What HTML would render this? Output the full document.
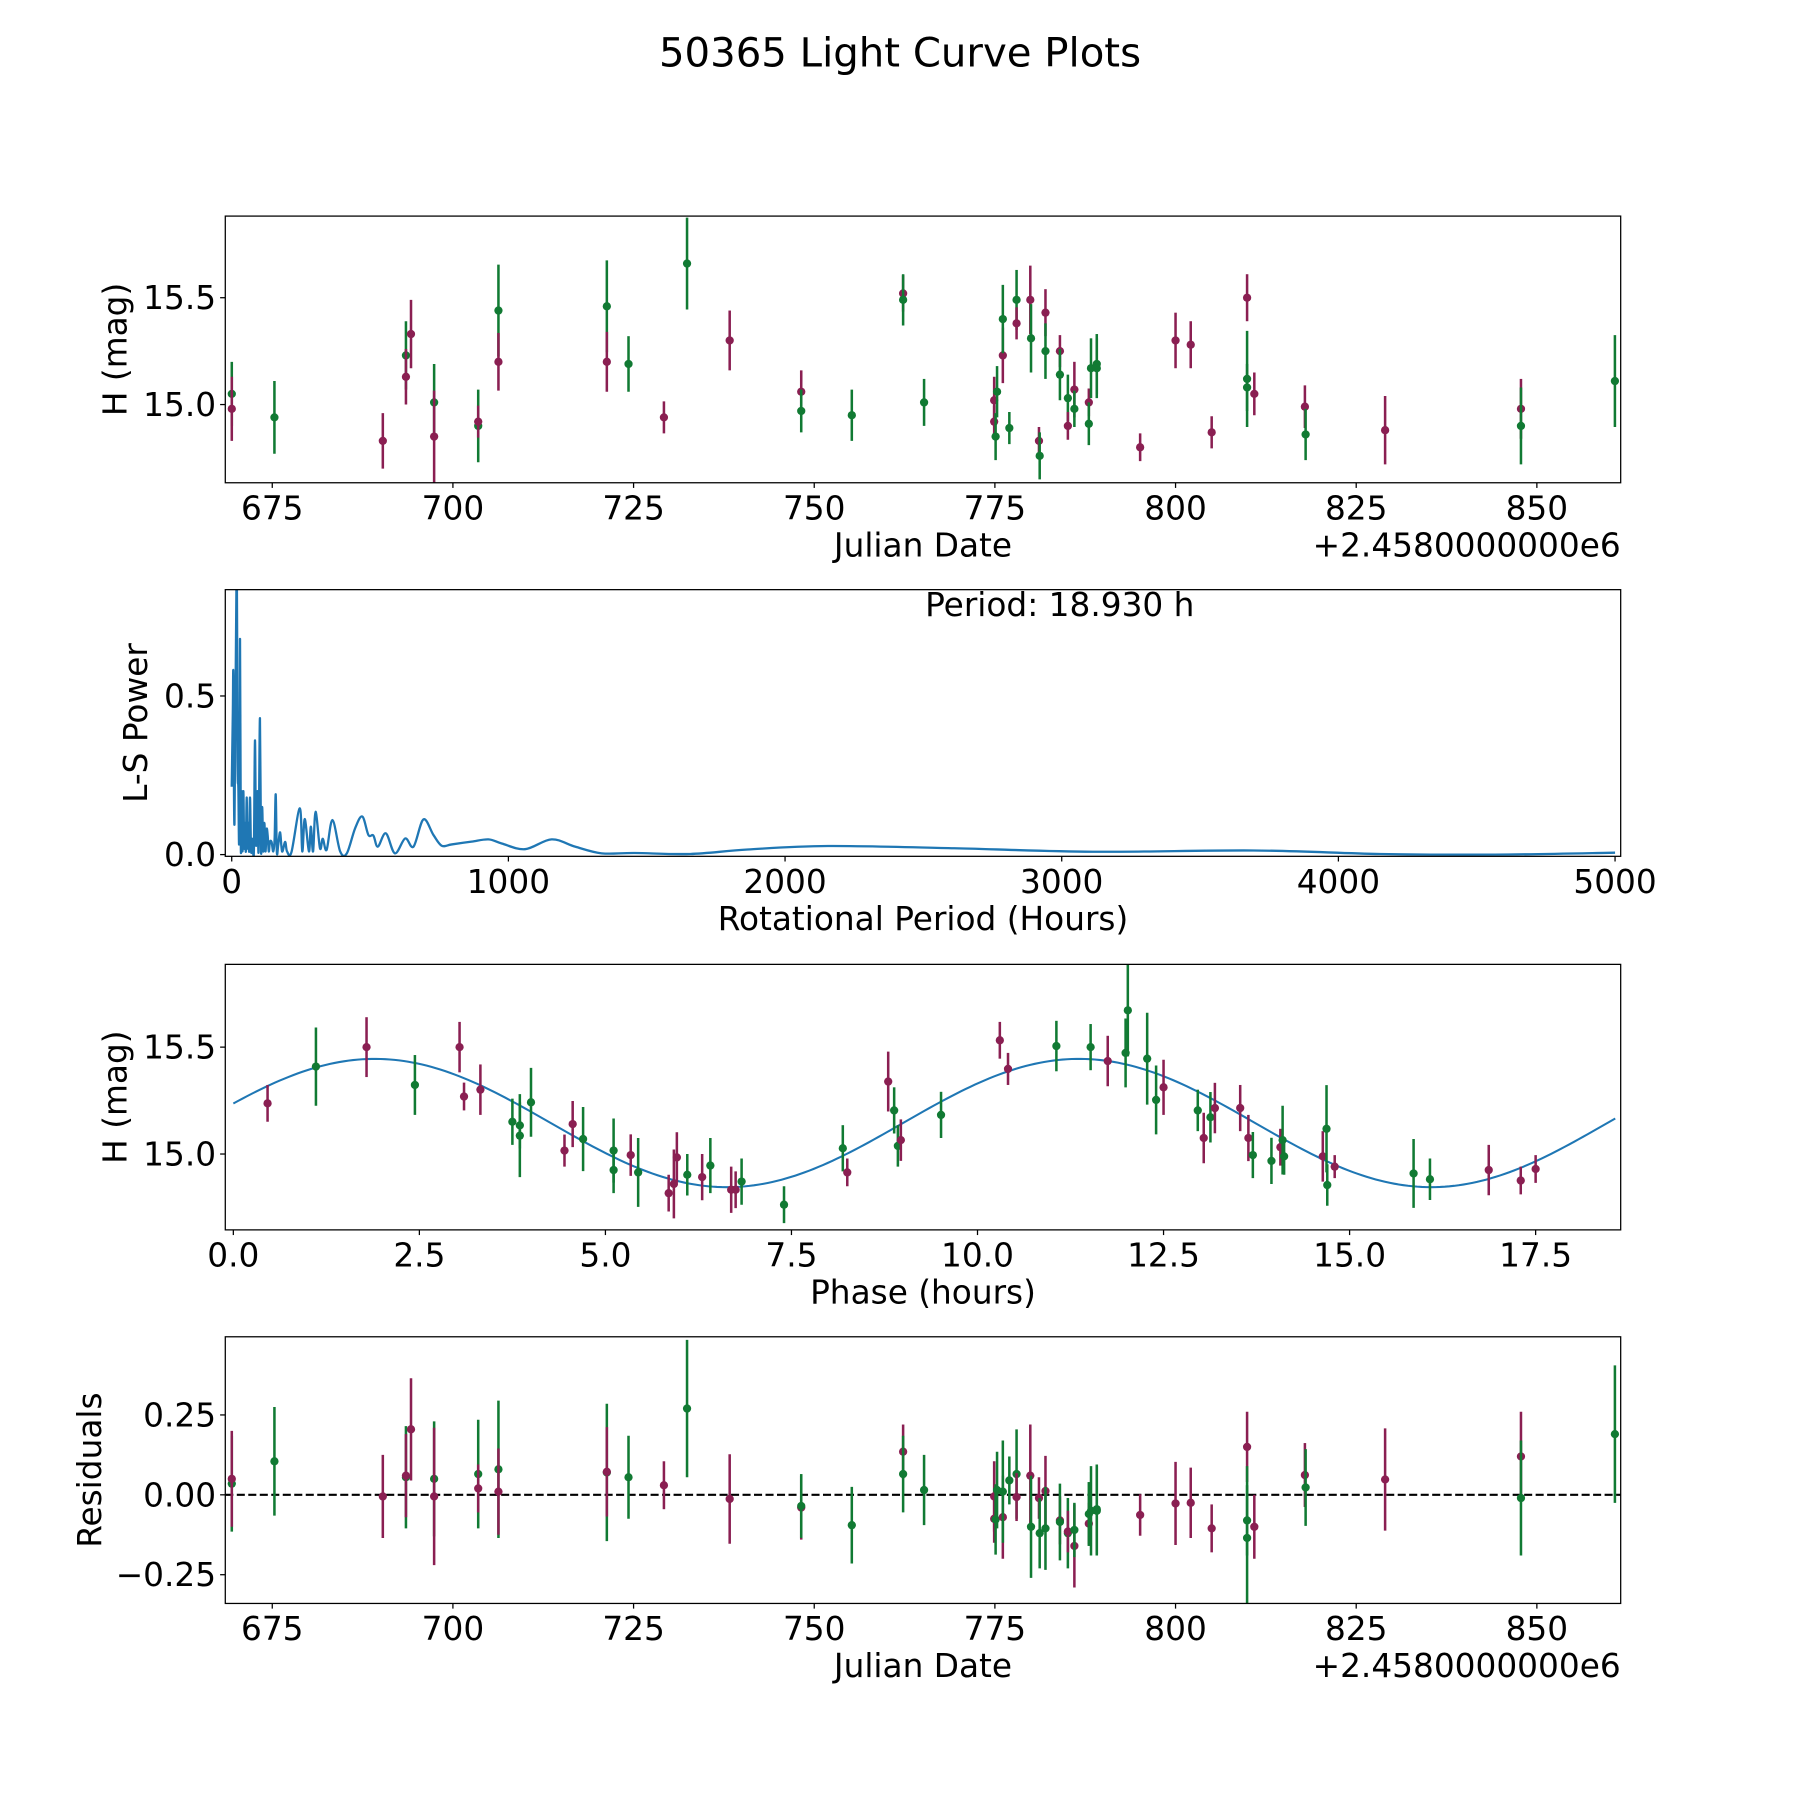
<!DOCTYPE html>
<html><head><meta charset="utf-8"><style>html,body{margin:0;padding:0;background:#fff}svg{display:block}text{font-family:"DejaVu Sans","Liberation Sans",sans-serif;fill:#000}</style></head>
<body>
<svg id="fig" width="1800" height="1800" viewBox="0 0 1566 1566" xmlns="http://www.w3.org/2000/svg">
<rect width="1566" height="1566" fill="#fff"/>
<text x="783" y="58" font-size="35" text-anchor="middle">50365 Light Curve Plots</text>
</svg>
<script>
// ---- Panel 1: light curve vs Julian date ----
const dates=[669.4,669.4,675.3,690.3,693.5,693.5,694.2,697.4,697.4,703.5,703.5,706.3,706.3,721.3,721.3,724.3,729.2,732.4,738.3,748.2,748.2,755.2,762.3,762.3,765.2,774.9,774.9,775.1,775.3,776.1,776.1,777.0,778.0,778.0,779.9,780.0,781.1,781.2,782.0,782.0,784.0,784.0,785.1,785.1,786.0,786.0,788.0,788.0,788.3,789.1,789.1,795.1,800.0,802.1,805.0,809.9,809.9,809.9,810.9,817.9,818.0,829.0,847.8,847.8,860.8];
const mags=[15.05,14.98,14.94,14.83,15.23,15.13,15.33,15.01,14.85,14.90,14.92,15.44,15.20,15.46,15.20,15.19,14.94,15.66,15.30,15.06,14.97,14.95,15.52,15.49,15.01,15.02,14.92,14.85,15.06,15.23,15.40,14.89,15.49,15.38,15.49,15.31,14.83,14.76,15.43,15.25,15.25,15.14,15.03,14.90,15.07,14.98,15.01,14.91,15.17,15.19,15.17,14.80,15.30,15.28,14.87,15.50,15.12,15.08,15.05,14.99,14.86,14.88,14.98,14.90,15.11];
const magErrs=[.15,.15,.17,.13,.16,.13,.16,.18,.215,.17,.075,.215,.135,.215,.14,.13,.075,.215,.14,.10,.10,.12,.085,.12,.11,.11,.075,.11,.12,.13,.16,.075,.14,.075,.16,.16,.065,.11,.11,.13,.075,.12,.11,.065,.13,.085,.065,.10,.14,.14,.14,.065,.13,.11,.075,.11,.225,.11,.10,.10,.12,.16,.14,.18,.215];
const bands="GMGMGMMGMGMGMGMGMGMMGGMGGMMGGMGGGMMGMGMGMGGMMGMGGGGMMMMMGGMMGMMGG".split("");
const residuals=[.035,.05,.105,-.005,.055,.06,.205,.05,-.005,.065,.02,.08,.01,.07,.072,.055,.03,.27,-.013,-.04,-.035,-.095,.135,.065,.015,-.005,-.075,-.077,.015,-.07,.01,.045,.065,-.007,.06,-.1,-.01,-.12,.012,-.105,-.08,-.085,-.12,-.115,-.16,-.11,-.09,-.06,-.05,-.045,-.05,-.063,-.027,-.025,-.105,.15,-.135,-.08,-.1,.062,.023,.048,.12,-.01,.19];
const jdTicks=[675,700,725,750,775,800,825,850];
const magTicks=[15.0,15.5];
const magTickLabels=["15.0","15.5"];
const resTicks=[0.25,0,-0.25];
const resTickLabels=["0.25","0.00","\u22120.25"];
// ---- Panel 2: periodogram ----
const lsPeriods=[0,4,6,10,18,21,24,27,30,33,36,39,42,45,48,51,54,57,60,63,66,70,75,80,84,88,93,97,102,106,110,114,118,122,126,130,134,138,144,150,155,159,163,168,175,182,193,200,216,246,255,264,279,286,294,303,319,329,343,364,392,416,446,472,494,512,528,557,590,627,657,693,729,759,795,867,928,976,1060,1156,1241,1337,1456,1657,1865,2155,2612,3111,3693,4150,4565,5000];
const lsPower=[0.214,0.45,0.566,0.1,0.95,0.3,0.21,0.05,0.68,0.02,0.2,0.01,0.2,0.02,0.1,0.01,0.18,0.02,0.1,0.01,0.18,0.01,0.05,0.01,0.36,0.03,0.2,0.01,0.43,0.01,0.15,0.01,0.10,0.01,0.08,0.06,0.01,0.04,0.04,0.01,0.05,0.19,0.01,0.03,0.07,0.01,0.04,0.01,0.008,0.146,0.01,0.112,0.01,0.088,0.01,0.135,0.02,0.05,0.015,0.109,0.01,0.004,0.083,0.120,0.062,0.06,0.025,0.067,0.004,0.051,0.025,0.111,0.062,0.028,0.032,0.041,0.048,0.035,0.017,0.048,0.025,0.004,0.005,0.002,0.016,0.027,0.02,0.009,0.013,0.002,0.0,0.006];
const lsXTicks=[0,1000,2000,3000,4000,5000];
const lsYTicks=[0.0,0.5];
const lsYTickLabels=["0.0","0.5"];
// ---- Panel 3: phased curve ----
const phases=[0.46,1.11,1.79,2.44,3.04,3.10,3.32,3.75,3.85,3.85,4.00,4.45,4.56,4.70,5.11,5.11,5.34,5.44,5.85,5.92,5.96,6.10,6.30,6.41,6.69,6.75,6.83,7.40,8.19,8.25,8.80,8.88,8.93,8.97,9.51,10.30,10.41,11.06,11.52,11.75,11.99,12.02,12.28,12.40,12.50,12.96,13.04,13.13,13.19,13.53,13.64,13.70,13.95,14.07,14.10,14.12,14.64,14.69,14.70,14.80,15.86,16.08,16.87,17.30,17.50];
const phaseMags=[15.237,15.409,15.500,15.323,15.500,15.269,15.301,15.151,15.134,15.086,15.242,15.016,15.140,15.070,15.016,14.925,14.995,14.914,14.817,14.860,14.984,14.903,14.892,14.946,14.833,14.833,14.871,14.763,15.027,14.914,15.339,15.204,15.038,15.065,15.183,15.532,15.398,15.505,15.500,15.435,15.473,15.672,15.446,15.253,15.312,15.204,15.075,15.172,15.215,15.215,15.075,14.995,14.968,15.032,15.065,14.989,14.989,15.118,14.855,14.941,14.909,14.882,14.925,14.876,14.930];
const phaseErrs=[.086,.183,.14,.14,.118,.065,.118,.108,.108,.194,.161,.075,.108,.15,.15,.108,.097,.161,.086,.161,.118,.097,.108,.129,.108,.086,.108,.086,.108,.065,.14,.108,.097,.097,.108,.086,.075,.118,.108,.118,.161,.215,.215,.161,.129,.097,.118,.118,.118,.108,.108,.108,.108,.086,.161,.086,.118,.204,.097,.054,.161,.097,.118,.065,.065];
const phaseBands="MGMGMMMGGGGMMGGGMGMMMGMGMMGGGMMGGMGMMGGMGGGGMGMGMMMGGMGGMGGMGGMMM".split("");
const phaseTicks=[0,2.5,5,7.5,10,12.5,15,17.5];
const phaseTickLabels=["0.0","2.5","5.0","7.5","10.0","12.5","15.0","17.5"];
const modelMean=15.145, modelAmp=0.30, modelHalfPeriod=9.465, modelPeak=1.9, modelEnd=18.57, periodHours=18.93;

const NS="http://www.w3.org/2000/svg";
const fig=document.getElementById('fig');
const COL={M:"#8a1f52",G:"#117a33"};
const FS=28.5;
function el(tag,attrs,parent){const e=document.createElementNS(NS,tag);for(const k in attrs)e.setAttribute(k,attrs[k]);(parent||fig).appendChild(e);return e;}
function txt(s,attrs,parent){const t=el('text',attrs,parent);t.textContent=s;return t;}
const L=196,R=1410;
function lin(d0,d1,p0,p1){return v=>p0+(v-d0)/(d1-d0)*(p1-p0);}

function frame(g,top,bot,name){
  const r=el('rect',{x:L,y:top,width:R-L,height:bot-top,fill:'none',stroke:'#000','stroke-width':1.1},g);
  
  
}
function xTicks(g,bot,vals,labels,sx,name){
  vals.forEach((v,i)=>{const x=sx(v);
    const t=el('line',{x1:x,x2:x,y1:bot,y2:bot+4.5,stroke:'#000','stroke-width':1.1},g);
    
    
    const lb=txt(labels[i],{x:x,y:bot+32,'font-size':FS,'text-anchor':'middle'},g);
    
    });
}
function yTicks(g,vals,labels,sy,name){
  vals.forEach((v,i)=>{const y=sy(v);
    const t=el('line',{x1:L-4.5,x2:L,y1:y,y2:y,stroke:'#000','stroke-width':1.1},g);
    
    
    const lb=txt(labels[i],{x:L-8,y:y+10,'font-size':FS,'text-anchor':'end'},g);
    
    });
}
function clip(id,top,bot){const c=el('clipPath',{id:id});el('rect',{x:L,y:top,width:R-L,height:bot-top},c);}
function points(g,xs,ys,es,bs,sx,sy,name){
  xs.forEach((xv,i)=>{const x=sx(xv),y=sy(ys[i]),e1=sy(ys[i]+es[i]),e2=sy(ys[i]-es[i]);
    const ln=el('line',{x1:x,x2:x,y1:e1,y2:e2,stroke:COL[bs[i]],'stroke-width':2.2},g);
    
    
    const c=el('circle',{cx:x,cy:y,r:3.6,fill:COL[bs[i]]},g);
    
    });
}
function yLabel(g,s,x,cy,name){const t=txt(s,{x:x,y:cy,'font-size':FS,'text-anchor':'middle',transform:`rotate(-90 ${x} ${cy})`},g);}
function xLabel(g,s,x,y,name,anchor){const t=txt(s,{x:x,y:y,'font-size':FS,'text-anchor':anchor||'middle'},g);}
function jdLabels(g,bot,name){xLabel(g,'Julian Date',803,bot+64,name+'-x-axis-title');xLabel(g,'+2.4580000000e6',1410,bot+64,name+'-x-offset-label','end');}

// Panel 1
(function(){const top=188,bot=420;const g=el('g',{});
 const sx=lin(668.5,861.6,L,R), sy=lin(14.634,15.882,bot,top);
 clip('c1',top,bot);const pg=el('g',{'clip-path':'url(#c1)'},g);
 points(pg,dates,mags,magErrs,bands,sx,sy,'lightcurve');
 frame(g,top,bot,'lightcurve');
 xTicks(g,bot,jdTicks,jdTicks.map(String),sx,'lightcurve');
 yTicks(g,magTicks,magTickLabels,sy,'lightcurve');
 yLabel(g,'H (mag)',110,(top+bot)/2,'lightcurve-y-axis-title');
 jdLabels(g,bot,'lightcurve');})();

// Panel 2
(function(){const top=513,bot=745;const g=el('g',{});
 const sx=lin(0,1000,201.6,442.3), sy=lin(0,0.5,743.5,605.5);
 clip('c2',top,bot);
 const P=lsPeriods.map((p,i)=>[sx(p),sy(lsPower[i])]);
 let d='M'+P[0][0].toFixed(2)+','+P[0][1].toFixed(2);
 for(let i=0;i<P.length-1;i++){const p0=P[Math.max(0,i-1)],p1=P[i],p2=P[i+1],p3=P[Math.min(P.length-1,i+2)];
   const c1x=p1[0]+(p2[0]-p0[0])/6,c1y=p1[1]+(p2[1]-p0[1])/6,c2x=p2[0]-(p3[0]-p1[0])/6,c2y=p2[1]-(p3[1]-p1[1])/6;
   d+=`C${c1x.toFixed(2)},${c1y.toFixed(2)} ${c2x.toFixed(2)},${c2y.toFixed(2)} ${p2[0].toFixed(2)},${p2[1].toFixed(2)}`;}
 const pth=el('path',{d:d,fill:'none',stroke:'#1f77b4','stroke-width':2,'stroke-linejoin':'round','clip-path':'url(#c2)'},g);
 
 
 frame(g,top,bot,'periodogram');
 xTicks(g,bot,lsXTicks,lsXTicks.map(String),sx,'periodogram');
 yTicks(g,lsYTicks,lsYTickLabels,sy,'periodogram');
 yLabel(g,'L-S Power',128,(top+bot)/2,'periodogram-y-axis-title');
 xLabel(g,'Rotational Period (Hours)',803,bot+64,'periodogram-x-axis-title');
 const pt=txt('Period: '+periodHours.toFixed(3)+' h',{x:922,y:536,'font-size':FS,'text-anchor':'middle'},g);
 
 })();

// Panel 3
(function(){const top=839,bot=1070;const g=el('g',{});
 const sx=lin(0,17.5,203,1336), sy=lin(15.0,15.5,1004,911);
 clip('c3',top,bot);const pg=el('g',{'clip-path':'url(#c3)'},g);
 let d='';for(let k=0;k<=300;k++){const p=modelEnd*k/300;const m=modelMean+modelAmp*Math.cos(2*Math.PI*(p-modelPeak)/modelHalfPeriod);d+=(k?'L':'M')+sx(p).toFixed(2)+','+sy(m).toFixed(2);}
 const mp=el('path',{d:d,fill:'none',stroke:'#1f77b4','stroke-width':1.8},pg);
 
 
 points(pg,phases,phaseMags,phaseErrs,phaseBands,sx,sy,'phased');
 frame(g,top,bot,'phased');
 xTicks(g,bot,phaseTicks,phaseTickLabels,sx,'phased');
 yTicks(g,magTicks,magTickLabels,sy,'phased');
 yLabel(g,'H (mag)',110,(top+bot)/2,'phased-y-axis-title');
 xLabel(g,'Phase (hours)',803,bot+64,'phased-x-axis-title');})();

// Panel 4
(function(){const top=1163,bot=1395;const g=el('g',{});
 const sx=lin(668.5,861.6,L,R), sy=lin(0,0.25,1300.5,1231);
 clip('c4',top,bot);const pg=el('g',{'clip-path':'url(#c4)'},g);
 const zl=el('line',{x1:L,x2:R,y1:sy(0),y2:sy(0),stroke:'#000','stroke-width':1.8,'stroke-dasharray':'7,3'},pg);
 
 
 points(pg,dates,residuals,magErrs,bands,sx,sy,'residual');
 frame(g,top,bot,'residuals');
 xTicks(g,bot,jdTicks,jdTicks.map(String),sx,'residuals');
 yTicks(g,resTicks,resTickLabels,sy,'residuals');
 yLabel(g,'Residuals',88,(top+bot)/2,'residuals-y-axis-title');
 jdLabels(g,bot,'residuals');})();
</script>
</body></html>
